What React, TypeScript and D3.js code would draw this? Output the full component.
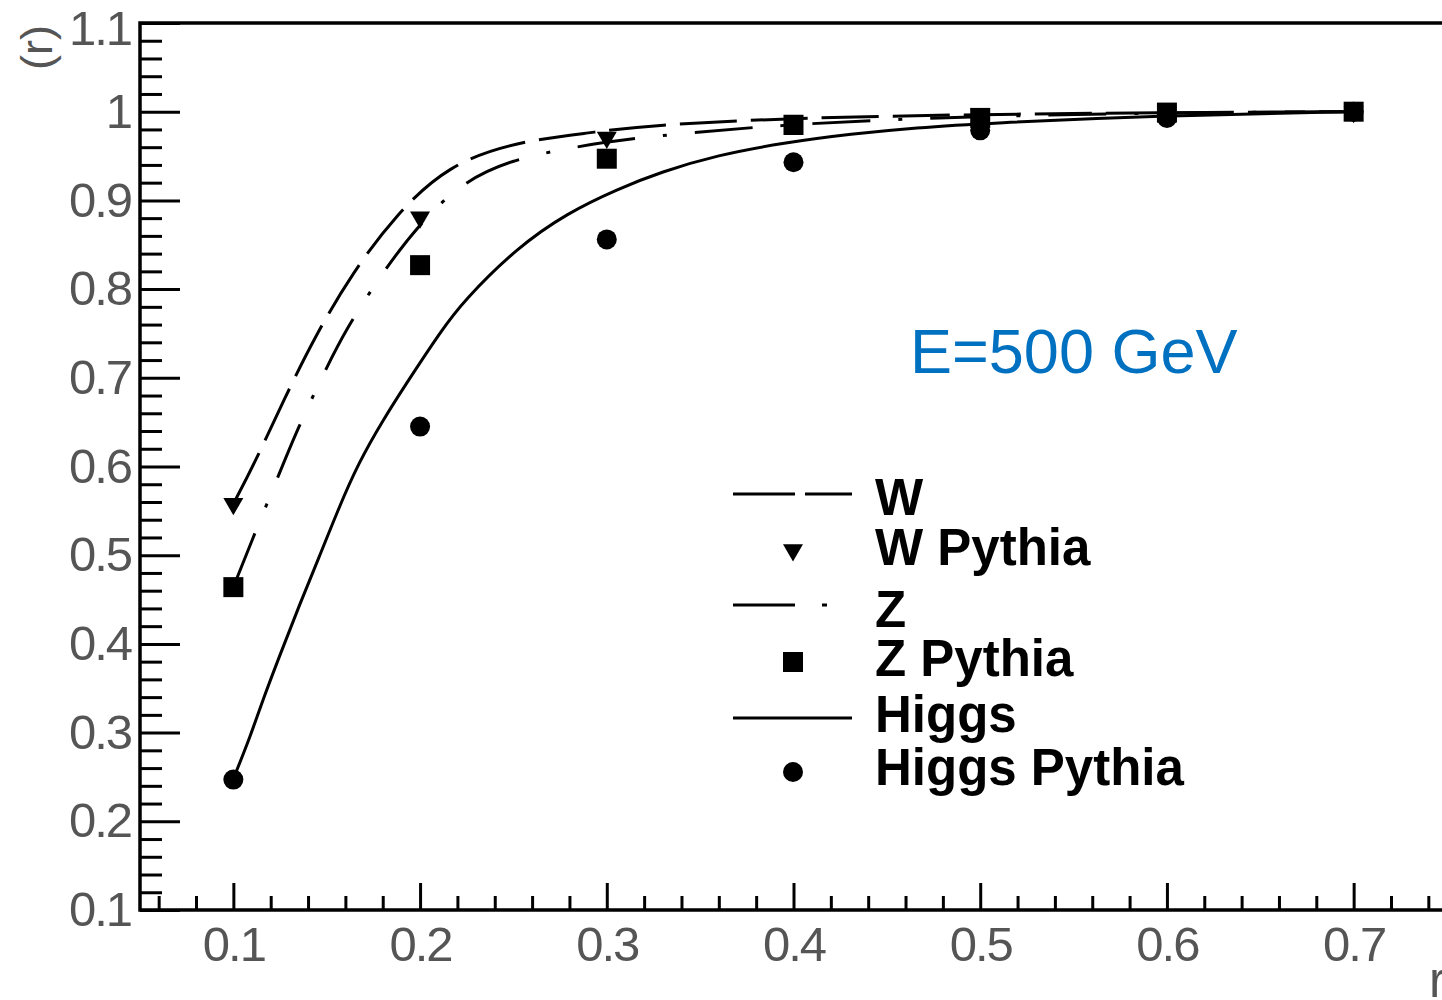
import React, { useEffect, useRef } from 'react';
import * as d3 from 'd3';

// generated samples (Pythia)
const pythiaR = [0.1, 0.2, 0.3, 0.4, 0.5, 0.6, 0.7];
const wPythia = [0.558, 0.881, 0.971, 0.99, 0.997, 0.999, 1.0];
const zPythia = [0.464, 0.827, 0.947, 0.985, 0.993, 0.999, 1.0];
const higgsPythia = [0.247, 0.645, 0.856, 0.943, 0.979, 0.993, 1.0];

// calculated curves
const wCurveR = [0.1, 0.111, 0.127, 0.144, 0.164, 0.187, 0.215, 0.251, 0.29, 0.323, 0.4, 0.5, 0.6, 0.7];
const wCurve = [0.558, 0.602, 0.675, 0.748, 0.819, 0.884, 0.94, 0.966, 0.976, 0.985, 0.993, 0.997, 0.999, 1.0];

const zCurveR = [0.1, 0.11, 0.1225, 0.134, 0.148, 0.16, 0.18, 0.199, 0.222, 0.249, 0.28, 0.311, 0.4, 0.5, 0.6, 0.7];
const zCurve = [0.464, 0.517, 0.581, 0.641, 0.703, 0.754, 0.819, 0.872, 0.92, 0.946, 0.959, 0.97, 0.987, 0.995, 0.999, 1.0];

const higgsCurveR = [0.1, 0.109, 0.117, 0.126, 0.135, 0.146, 0.156, 0.167, 0.18, 0.194, 0.211, 0.223, 0.252, 0.279, 0.306, 0.329, 0.359, 0.395, 0.431, 0.466, 0.502, 0.6, 0.7];
const higgsCurve = [0.248, 0.295, 0.344, 0.393, 0.442, 0.498, 0.551, 0.604, 0.652, 0.698, 0.752, 0.786, 0.847, 0.886, 0.913, 0.932, 0.951, 0.965, 0.975, 0.982, 0.987, 0.996, 1.0];

const xTicks = [0.1, 0.2, 0.3, 0.4, 0.5, 0.6, 0.7];
const yTicks = [0.1, 0.2, 0.3, 0.4, 0.5, 0.6, 0.7, 0.8, 0.9, 1.0, 1.1];
const legendLabels = ['W', 'W Pythia', 'Z', 'Z Pythia', 'Higgs', 'Higgs Pythia'];
const energyLabel = 'E=500 GeV';
const yTitle = '(r)';
const xTitle = 'r';

const FONT = '"Liberation Sans", Arial, Helvetica, sans-serif';

export default function App() {
  const ref = useRef<SVGSVGElement>(null);

  useEffect(() => {
    const svg = d3.select(ref.current);
    svg.selectAll('*').remove();

    const x = d3.scaleLinear().domain([0.05, 0.75]).range([140, 1447]);
    const y = d3.scaleLinear().domain([0.1, 1.1]).range([910, 23]);

    const fmt = (d: number) => (d === 1 ? '1' : d.toFixed(1));
    const minorY = d3.range(6, 55).filter((i) => i % 5 !== 0).map((i) => i / 50);
    const minorX = d3.range(3, 38).filter((i) => i % 5 !== 0).map((i) => i / 50);

    // y axis
    const yMajor = svg
      .append('g')
      .attr('transform', 'translate(140,0)')
      .call(d3.axisLeft(y).tickValues(yTicks).tickSize(-40).tickSizeOuter(0).tickPadding(9).tickFormat(fmt as any));
    const yMinor = svg
      .append('g')
      .attr('transform', 'translate(140,0)')
      .call(d3.axisLeft(y).tickValues(minorY).tickSize(-22).tickSizeOuter(0).tickFormat(() => ''));

    // x axis
    const xMajor = svg
      .append('g')
      .attr('transform', 'translate(0,910)')
      .call(d3.axisBottom(x).tickValues(xTicks).tickSize(-27).tickSizeOuter(0).tickPadding(16).tickFormat(fmt as any));
    const xMinor = svg
      .append('g')
      .attr('transform', 'translate(0,910)')
      .call(d3.axisBottom(x).tickValues(minorX).tickSize(-14).tickSizeOuter(0).tickFormat(() => ''));

    [yMajor, yMinor, xMajor, xMinor].forEach((g) => {
      g.select('.domain').remove();
      g.selectAll('line').attr('stroke', '#000').attr('stroke-width', 3);
      g.selectAll('text')
        .attr('fill', '#555')
        .style('font-family', FONT)
        .style('font-size', '49px')
        .style('letter-spacing', '-2px');
    });
    // top label sits a little lower, as in ROOT
    yMajor
      .selectAll('g.tick')
      .filter((d: any) => d === 1.1)
      .select('text')
      .attr('y', 6);

    // frame
    svg
      .append('path')
      .attr('d', `M1447,${y(1.1)}H${x(0.05)}V${y(0.1)}H1447`)
      .attr('fill', 'none')
      .attr('stroke', '#000')
      .attr('stroke-width', 3.5);

    // curves
    const line = d3
      .line<[number, number]>()
      .x((d) => x(d[0]))
      .y((d) => y(d[1]))
      .curve(d3.curveBasis);

    const curves = [
      { r: wCurveR, v: wCurve, dash: '57,14' },
      { r: zCurveR, v: zCurve, dash: '58,28,4,28' },
      { r: higgsCurveR, v: higgsCurve, dash: 'none' },
    ];
    curves.forEach((c) => {
      svg
        .append('path')
        .datum(c.r.map((r, i) => [r, c.v[i]] as [number, number]))
        .attr('d', line)
        .attr('fill', 'none')
        .attr('stroke', '#000')
        .attr('stroke-width', 3)
        .attr('stroke-dasharray', c.dash);
    });

    // markers
    const triangle = d3.symbol().type(d3.symbolTriangle).size(173)();
    const square = d3.symbol().type(d3.symbolSquare).size(400)();
    const circle = d3.symbol().type(d3.symbolCircle).size(314)();

    const drawMarkers = (vals: number[], path: string | null, rot: number) => {
      svg
        .append('g')
        .selectAll('path')
        .data(vals)
        .enter()
        .append('path')
        .attr('d', path)
        .attr('transform', (d, i) => `translate(${x(pythiaR[i])},${y(d)}) rotate(${rot})`)
        .attr('fill', '#000');
    };
    drawMarkers(higgsPythia, circle, 0);
    drawMarkers(zPythia, square, 0);
    drawMarkers(wPythia, triangle, 180);

    // legend
    const lg = svg.append('g');
    const legendLine = (yy: number, dash: string) =>
      lg
        .append('line')
        .attr('x1', 733)
        .attr('x2', 852)
        .attr('y1', yy)
        .attr('y2', yy)
        .attr('stroke', '#000')
        .attr('stroke-width', 3)
        .attr('stroke-dasharray', dash);
    legendLine(494, '62,10');
    legendLine(605, '62,27,5,40');
    legendLine(718, 'none');
    lg.append('path').attr('d', triangle).attr('transform', 'translate(793,550) rotate(180)');
    lg.append('path').attr('d', square).attr('transform', 'translate(793,662)');
    lg.append('path').attr('d', circle).attr('transform', 'translate(793,772)');

    const baselines = [515, 565, 627, 676, 732, 785];
    lg.selectAll('text')
      .data(legendLabels)
      .enter()
      .append('text')
      .attr('x', 875)
      .attr('y', (d, i) => baselines[i])
      .attr('fill', '#000')
      .style('font-family', FONT)
      .style('font-weight', 'bold')
      .style('font-size', '51px')
      .text((d) => d);

    svg
      .append('text')
      .attr('x', 910)
      .attr('y', 373)
      .attr('fill', '#0070C0')
      .style('font-family', FONT)
      .style('font-size', '63px')
      .text(energyLabel);

    // axis titles
    svg
      .append('text')
      .attr('transform', 'translate(52,70) rotate(-90)')
      .attr('fill', '#555')
      .style('font-family', FONT)
      .style('font-size', '45px')
      .text(yTitle);
    svg
      .append('text')
      .attr('x', 1429)
      .attr('y', 997)
      .attr('fill', '#555')
      .style('font-family', FONT)
      .style('font-size', '50px')
      .text(xTitle);
  }, []);

  return (
    <svg
      ref={ref}
      width={1442}
      height={1000}
      style={{ position: 'absolute', left: 0, top: 0, background: '#fff' }}
    />
  );
}
